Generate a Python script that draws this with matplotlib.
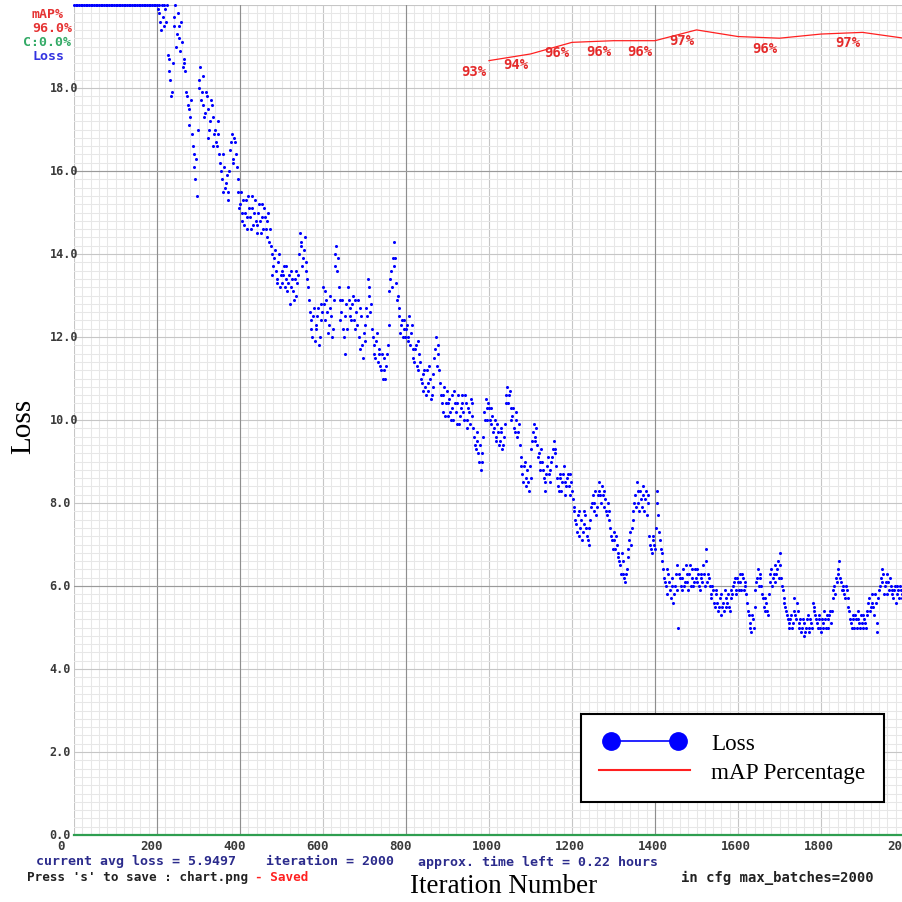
import numpy as np
import matplotlib
matplotlib.use('Agg')
import matplotlib.pyplot as plt
from matplotlib.lines import Line2D
from matplotlib.legend_handler import HandlerLine2D

W, H = 902, 903
MONO = 'DejaVu Sans Mono'
SERIF = 'Liberation Serif'

# loss read every 4 iterations (values above 20 are drawn at the top edge)
loss = [
    # 0 - 196 : off the scale
    20.0, 20.0, 20.0, 20.0, 20.0, 20.0, 20.0, 20.0, 20.0, 20.0, 20.0, 20.0, 20.0,
    20.0, 20.0, 20.0, 20.0, 20.0, 20.0, 20.0, 20.0, 20.0, 20.0, 20.0, 20.0,
    20.0, 20.0, 20.0, 20.0, 20.0, 20.0, 20.0, 20.0, 20.0, 20.0, 20.0, 20.0, 20.0,
    20.0, 20.0, 20.0, 20.0, 20.0, 20.0, 20.0, 20.0, 20.0, 20.0, 20.0, 20.0,
    # 200 - 296
    20.0, 19.8, 19.6, 20.0, 19.5, 19.9, 20.0, 18.7, 18.2, 17.9, 19.7, 20.0, 19.3,
    19.5, 18.9, 19.1, 18.6, 18.4, 17.8, 17.5, 17.3, 16.9, 16.4, 15.8, 15.4,
    # 300 - 396
    18.2, 18.5, 17.9, 17.6, 17.4, 17.8, 16.8, 17.2, 17.6, 16.6, 17.0, 16.6, 16.9,
    16.2, 15.8, 16.4, 15.6, 15.9, 15.3, 16.5, 16.9, 16.3, 16.7, 16.1, 15.5,
    # 400 - 496
    15.2, 14.8, 15.3, 15.0, 14.6, 15.4, 14.9, 15.1, 14.7, 15.3, 14.5, 15.0, 14.8,
    15.2, 14.6, 14.9, 14.4, 15.0, 14.6, 14.0, 13.7, 14.1, 13.4, 13.8, 13.2,
    # 500 - 596
    13.6, 13.5, 13.2, 13.7, 13.3, 12.8, 13.6, 13.1, 13.4, 13.0, 13.5, 14.5, 14.2,
    13.9, 14.4, 13.6, 13.2, 12.6, 12.2, 12.5, 11.9, 12.3, 12.7, 12.0, 12.8,
    # 600 - 696
    13.2, 12.4, 12.9, 12.1, 13.0, 12.5, 12.2, 13.7, 14.2, 13.9, 12.9, 12.6, 12.2,
    11.6, 12.8, 13.2, 12.7, 12.4, 13.0, 12.2, 12.6, 12.9, 11.7, 12.5, 11.5,
    # 700 - 796
    12.3, 12.7, 13.4, 13.0, 12.8, 12.0, 11.6, 11.9, 11.4, 11.7, 11.2, 11.0, 11.5,
    11.3, 11.8, 13.1, 13.6, 13.9, 14.3, 13.3, 13.0, 12.7, 12.3, 12.0, 12.4,
    # 800 - 896
    12.2, 11.9, 12.5, 12.1, 11.7, 11.4, 11.8, 11.2, 11.6, 11.0, 10.7, 11.2, 10.6,
    10.9, 11.3, 10.5, 10.8, 11.5, 12.0, 11.6, 11.2, 10.6, 10.2, 10.8, 10.4,
    # 900 - 996
    10.1, 10.5, 10.0, 10.3, 10.7, 10.2, 10.4, 9.9, 10.3, 10.6, 10.0, 10.4, 9.8,
    10.2, 10.5, 10.1, 9.6, 9.3, 9.5, 9.0, 8.8, 9.2, 10.2, 10.5, 10.0,
    # 1000 - 1096
    10.3, 9.9, 10.1, 9.8, 9.5, 9.9, 9.4, 9.7, 9.3, 9.6, 10.4, 10.8, 10.6,
    10.3, 10.1, 9.8, 10.2, 9.6, 9.9, 9.1, 8.7, 8.9, 8.4, 8.8, 8.3,
    # 1100 - 1196
    8.6, 9.5, 9.9, 9.6, 9.4, 9.2, 8.8, 9.0, 8.6, 8.3, 8.9, 8.7, 8.8,
    9.1, 9.5, 9.2, 8.6, 8.3, 8.7, 8.5, 8.9, 8.2, 8.6, 8.4, 8.7,
    # 1200 - 1296
    8.3, 7.9, 7.6, 7.3, 7.8, 7.4, 7.1, 7.5, 7.7, 7.2, 7.0, 7.6, 8.0,
    7.8, 8.3, 7.9, 8.5, 8.2, 8.4, 7.9, 8.1, 7.7, 7.8, 7.4, 7.1,
    # 1300 - 1396
    7.3, 6.9, 7.0, 6.7, 6.5, 6.8, 6.3, 6.1, 6.4, 6.9, 7.3, 7.4, 7.8,
    8.2, 8.5, 8.0, 8.3, 7.9, 8.4, 8.1, 7.7, 8.2, 7.0, 6.8, 7.2,
    # 1400 - 1496
    6.9, 8.3, 7.7, 7.1, 6.8, 6.4, 6.1, 5.8, 6.3, 5.9, 6.2, 5.6, 6.0,
    6.5, 5.0, 6.2, 5.9, 6.4, 6.1, 6.3, 5.9, 6.5, 6.2, 6.0, 6.4,
    # 1500 - 1596
    6.1, 6.3, 5.9, 6.2, 6.5, 6.0, 6.9, 6.3, 6.0, 5.7, 5.9, 5.5, 5.8,
    5.4, 5.7, 5.3, 5.6, 5.9, 5.5, 5.8, 5.4, 5.7, 6.0, 6.2, 5.8,
    # 1600 - 1696
    6.1, 6.3, 5.9, 6.2, 6.0, 5.8, 5.4, 5.1, 4.9, 5.2, 5.5, 6.1, 6.4,
    6.2, 6.0, 5.7, 5.4, 5.6, 5.3, 6.1, 6.4, 6.2, 6.5, 6.3, 6.6,
    # 1700 - 1796
    6.8, 6.2, 5.9, 5.6, 5.4, 5.2, 5.0, 5.3, 5.1, 5.7, 5.2, 5.4, 5.1,
    4.9, 5.2, 4.8, 5.0, 5.3, 4.9, 5.1, 5.6, 5.5, 5.2, 5.0, 5.3,
    # 1800 - 1896
    4.9, 5.1, 5.4, 5.0, 5.2, 5.3, 5.1, 5.7, 6.0, 6.2, 6.4, 6.6, 6.1,
    5.9, 5.8, 6.0, 5.7, 5.4, 5.1, 5.3, 5.0, 5.2, 5.4, 5.1, 5.3,
    # 1900 - 1996
    5.0, 5.2, 5.0, 5.4, 5.7, 5.5, 5.8, 5.3, 5.6, 4.9, 5.9, 6.2, 6.4,
    5.8, 6.1, 6.3, 5.9, 6.0, 5.8, 5.9, 5.6, 6.0, 5.7, 5.9, 5.8,
]
iters = np.arange(0, 4 * len(loss), 4)

# second reading of the cloud, at iterations 202, 206, ... 1998
loss_b = [
    # 202 - 298
    19.9, 20.0, 19.4, 19.7, 20.0, 19.6, 18.8, 18.4, 17.8, 18.6, 19.5, 19.0, 19.8,
    19.2, 19.6, 18.5, 18.7, 17.9, 17.6, 17.1, 17.7, 16.6, 16.1, 16.3, 17.0,
    # 302 - 398
    18.0, 17.7, 18.3, 17.3, 17.9, 17.5, 17.0, 17.7, 17.3, 16.9, 16.7, 17.2, 16.4,
    16.0, 15.5, 16.1, 15.7, 15.5, 16.0, 16.7, 16.2, 16.8, 16.4, 15.8, 15.1,
    # 402 - 498
    15.5, 15.0, 14.7, 15.3, 14.9, 15.1, 14.6, 15.4, 15.0, 14.8, 14.7, 15.2, 14.5,
    14.9, 15.1, 14.6, 14.8, 14.3, 14.2, 13.5, 13.9, 13.6, 13.3, 14.0, 13.5,
    # 502 - 598
    13.3, 13.7, 13.4, 13.1, 13.5, 13.2, 13.4, 12.9, 13.6, 13.3, 14.0, 14.3, 13.7,
    14.1, 13.8, 13.4, 12.9, 12.4, 12.0, 12.7, 12.2, 12.5, 11.8, 12.4, 12.6,
    # 602 - 698
    12.8, 13.1, 12.6, 12.3, 12.7, 12.0, 12.9, 14.0, 13.6, 13.2, 12.4, 12.9, 12.0,
    12.5, 12.2, 12.9, 12.5, 12.8, 12.4, 12.9, 12.3, 12.0, 12.7, 11.8, 12.1,
    # 702 - 798
    11.9, 12.5, 13.2, 12.6, 12.2, 11.8, 11.5, 12.1, 11.6, 11.3, 11.6, 11.2, 11.0,
    11.6, 12.3, 13.4, 13.2, 13.7, 13.9, 12.9, 12.5, 12.1, 12.4, 12.2, 12.0,
    # 802 - 898
    12.3, 12.0, 11.8, 12.3, 11.5, 11.7, 11.3, 11.9, 11.4, 10.9, 11.1, 10.8, 11.2,
    10.7, 11.0, 10.6, 11.1, 11.7, 11.3, 11.8, 10.9, 10.4, 10.6, 10.1, 10.7,
    # 902 - 998
    10.4, 10.2, 10.6, 10.0, 10.4, 9.9, 10.6, 10.1, 10.4, 10.2, 10.6, 10.0, 10.3,
    9.9, 10.4, 9.8, 9.4, 9.7, 9.2, 9.4, 9.0, 9.6, 10.0, 10.3, 10.4,
    # 1002 - 1098
    10.0, 10.3, 9.7, 10.0, 9.6, 9.7, 9.5, 9.8, 9.4, 9.9, 10.6, 10.4, 10.7,
    10.0, 10.3, 9.7, 10.0, 9.7, 9.4, 8.9, 8.5, 9.0, 8.6, 8.5, 8.9,
    # 1102 - 1198
    9.3, 9.7, 9.5, 9.8, 9.1, 9.0, 9.3, 8.8, 8.5, 8.7, 9.1, 8.5, 9.0,
    9.3, 9.3, 8.9, 8.4, 8.6, 8.3, 8.7, 8.5, 8.4, 8.7, 8.2, 8.5,
    # 1202 - 1298
    8.1, 7.8, 7.5, 7.7, 7.2, 7.6, 7.3, 7.8, 7.4, 7.1, 7.4, 7.9, 8.2,
    8.0, 7.7, 8.2, 8.3, 8.0, 8.2, 8.3, 7.8, 8.0, 7.6, 7.2, 6.9,
    # 1302 - 1398
    7.1, 7.2, 6.8, 6.6, 6.3, 6.6, 6.2, 6.3, 6.7, 7.1, 7.0, 7.6, 8.0,
    7.9, 8.3, 7.8, 8.1, 8.2, 7.8, 8.3, 8.0, 7.2, 6.9, 7.1, 7.0,
    # 1402 - 1498
    7.4, 8.0, 7.3, 6.9, 6.6, 6.2, 6.0, 6.4, 6.1, 5.7, 6.0, 5.8, 6.3,
    5.9, 6.3, 6.0, 6.2, 6.0, 6.5, 6.1, 6.3, 6.0, 6.4, 6.1, 6.2,
    # 1502 - 1598
    6.4, 6.0, 6.3, 6.1, 6.3, 6.6, 6.1, 6.2, 5.8, 6.0, 5.6, 5.9, 5.6,
    5.5, 5.8, 5.5, 5.4, 5.7, 5.6, 5.5, 5.9, 5.8, 6.1, 5.9, 6.2,
    # 1602 - 1698
    5.9, 6.1, 6.3, 5.9, 6.1, 5.6, 5.3, 5.0, 5.3, 5.0, 5.9, 6.2, 6.0,
    6.3, 5.8, 5.5, 5.7, 5.4, 5.8, 6.3, 6.0, 6.3, 6.1, 6.4, 6.2,
    # 1702 - 1798
    6.5, 6.0, 5.7, 5.5, 5.3, 5.1, 5.2, 5.0, 5.4, 5.3, 5.6, 5.0, 5.2,
    5.0, 5.1, 4.9, 5.2, 5.0, 5.2, 5.0, 5.4, 5.3, 5.1, 5.2, 5.0,
    # 1802 - 1898
    5.2, 5.0, 5.2, 5.3, 5.0, 5.4, 5.4, 5.9, 5.8, 6.1, 6.3, 6.2, 5.9,
    6.0, 5.7, 5.9, 5.5, 5.2, 5.0, 5.2, 5.3, 5.0, 5.2, 5.0, 5.1,
    # 1902 - 1998
    5.3, 5.1, 5.3, 5.6, 5.4, 5.6, 5.5, 5.8, 5.1, 5.7, 6.0, 6.1, 6.3,
    6.0, 5.8, 6.1, 6.2, 5.9, 5.7, 6.0, 5.8, 5.9, 6.0, 5.7, 5.9,
]
iters_b = np.arange(202, 202 + 4 * len(loss_b), 4)

# mAP (%) checks
map_iters = [1000, 1100, 1200, 1300, 1400, 1500, 1600, 1700, 1800, 1900, 2000]
map_vals = [93.3, 94.1, 95.5, 95.7, 95.7, 97.0, 96.2, 96.0, 96.5, 96.7, 96.0]
map_label_iters = [1000, 1100, 1200, 1300, 1400, 1500, 1700, 1900]
map_label_text = ['93%', '94%', '96%', '96%', '96%', '97%', '96%', '97%']

# contrastive accuracy stays at 0
contrast_val = 0.0

xtick_vals = [0, 200, 400, 600, 800, 1000, 1200, 1400, 1600, 1800, 2000]
xtick_labels = [str(v) for v in xtick_vals]
ytick_vals = [0, 2, 4, 6, 8, 10, 12, 14, 16, 18]
ytick_labels = ['%.1f' % v for v in ytick_vals]

fig = plt.figure(figsize=(W / 100, H / 100), dpi=100)
ax = fig.add_axes([74 / W, (H - 836) / H, 830 / W, 830 / H])
ax.set_xlim(0, 2000)
ax.set_ylim(0, 20)
for s in ax.spines.values():
    s.set_visible(False)

# grid like the darknet chart
ax.set_xticks(np.arange(0, 2001, 200))
ax.set_xticks(np.arange(0, 2001, 20), minor=True)
ax.set_yticks(np.arange(0, 20.01, 2))
ax.set_yticks(np.arange(0, 20.01, 0.2), minor=True)
ax.tick_params(which='both', length=0, labelbottom=False, labelleft=False)
ax.set_axisbelow(True)
ax.grid(which='minor', color='#e7e7e7', lw=0.75)
ax.grid(which='major', color='#c6c6c6', lw=0.8)
for x in [200, 400, 800, 1400]:
    ax.axvline(x, color='#8e8e8e', lw=0.8, zorder=0.9)
for y in [16, 6]:
    ax.axhline(y, color='#9a9a9a', lw=0.8, zorder=0.9)

# loss points
ax.plot(iters, np.minimum(loss, 20), 'o', color='#0000ff', ms=2.2, mew=0,
        clip_on=False, zorder=3)
ax.plot(iters_b, np.minimum(loss_b, 20), 'o', color='#0000ff', ms=2.2, mew=0,
        clip_on=False, zorder=3)

# contrastive accuracy line at the bottom
ax.axhline(contrast_val, color='#2e9e50', lw=1.6, clip_on=False, zorder=2.5)

# mAP on its own 0-100 scale
ax2 = ax.twinx()
ax2.set_ylim(0, 100)
ax2.set_xlim(0, 2000)
ax2.axis('off')
ax2.plot(map_iters, map_vals, color='#ff2020', lw=0.9, clip_on=False)
for it, txt in zip(map_label_iters, map_label_text):
    v = map_vals[map_iters.index(it)]
    ax2.annotate(txt, (it, v), xytext=(-15, -10), textcoords='offset pixels',
                 ha='center', va='center', color='#e52a2a', fontsize=10,
                 family=MONO, weight='bold', annotation_clip=False)

# tick labels
for v, lab in zip(xtick_vals, xtick_labels):
    ax.annotate(lab, (v, 0), xycoords=('data', 'axes fraction'),
                xytext=(-17, -10.5), textcoords='offset pixels',
                ha='left', va='center', fontsize=9, family=MONO,
                weight='bold', color='#3a3a3a', annotation_clip=False)
for v, lab in zip(ytick_vals, ytick_labels):
    ax.annotate(lab, (0, v), xycoords=('axes fraction', 'data'),
                xytext=(-24.5, 0), textcoords='offset pixels',
                ha='left', va='center', fontsize=8.5, family=MONO,
                weight='bold', color='#3a3a3a', annotation_clip=False)


def px_text(x, y, s, **kw):
    fig.text(x / W, 1 - y / H, s, va='center', ha='left', **kw)


mono = dict(family=MONO, weight='bold')
px_text(32, 14, 'mAP%', color='#e53232', fontsize=9.5, **mono)
px_text(32, 28, '96.0%', color='#e53232', fontsize=9.5, **mono)
px_text(23, 43, 'C:0.0%', color='#33aa66', fontsize=9.5, **mono)
px_text(32, 57, 'Loss', color='#3232e0', fontsize=9.5, **mono)

px_text(36, 862, 'current avg loss = 5.9497', color='#2b2b8c', fontsize=9.5, **mono)
px_text(266, 862, 'iteration = 2000', color='#2b2b8c', fontsize=9.5, **mono)
px_text(418, 862, 'approx. time left = 0.22 hours', color='#2b2b8c', fontsize=9.5, **mono)
px_text(27, 878, "Press 's' to save : chart.png", color='#222222', fontsize=9.1, **mono)
px_text(255, 878, '- Saved', color='#ff2020', fontsize=9.1, **mono)
px_text(681, 878, 'in cfg max_batches=2000', color='#222222', fontsize=10, **mono)

fig.text(504 / W, 1 - 887 / H, 'Iteration Number', family=SERIF, fontsize=19.5,
         ha='center', va='center')
fig.text(23 / W, 1 - 426 / H, 'Loss', family=SERIF, fontsize=21,
         ha='center', va='center', rotation=90)

# legend
loss_handle = Line2D([], [], color='#0000ff', lw=1.2, marker='o', ms=12.5,
                     mfc='#0000ff', mec='#0000ff')
map_handle = Line2D([], [], color='#ff2020', lw=1.5)
leg = ax2.legend([loss_handle, map_handle], ['Loss', 'mAP Percentage'],
                 handler_map={loss_handle: HandlerLine2D(numpoints=2, marker_pad=0.52)},
                 loc='lower right', bbox_to_anchor=(884 / W, 1 - 803 / H),
                 bbox_transform=fig.transFigure, borderaxespad=0,
                 fancybox=False, edgecolor='black', framealpha=1,
                 prop={'family': SERIF, 'size': 16.7}, handlelength=3.92,
                 handletextpad=0.9, borderpad=0.8, labelspacing=0.35)
leg.get_frame().set_linewidth(1.5)

fig.savefig('out.png', dpi=100)
